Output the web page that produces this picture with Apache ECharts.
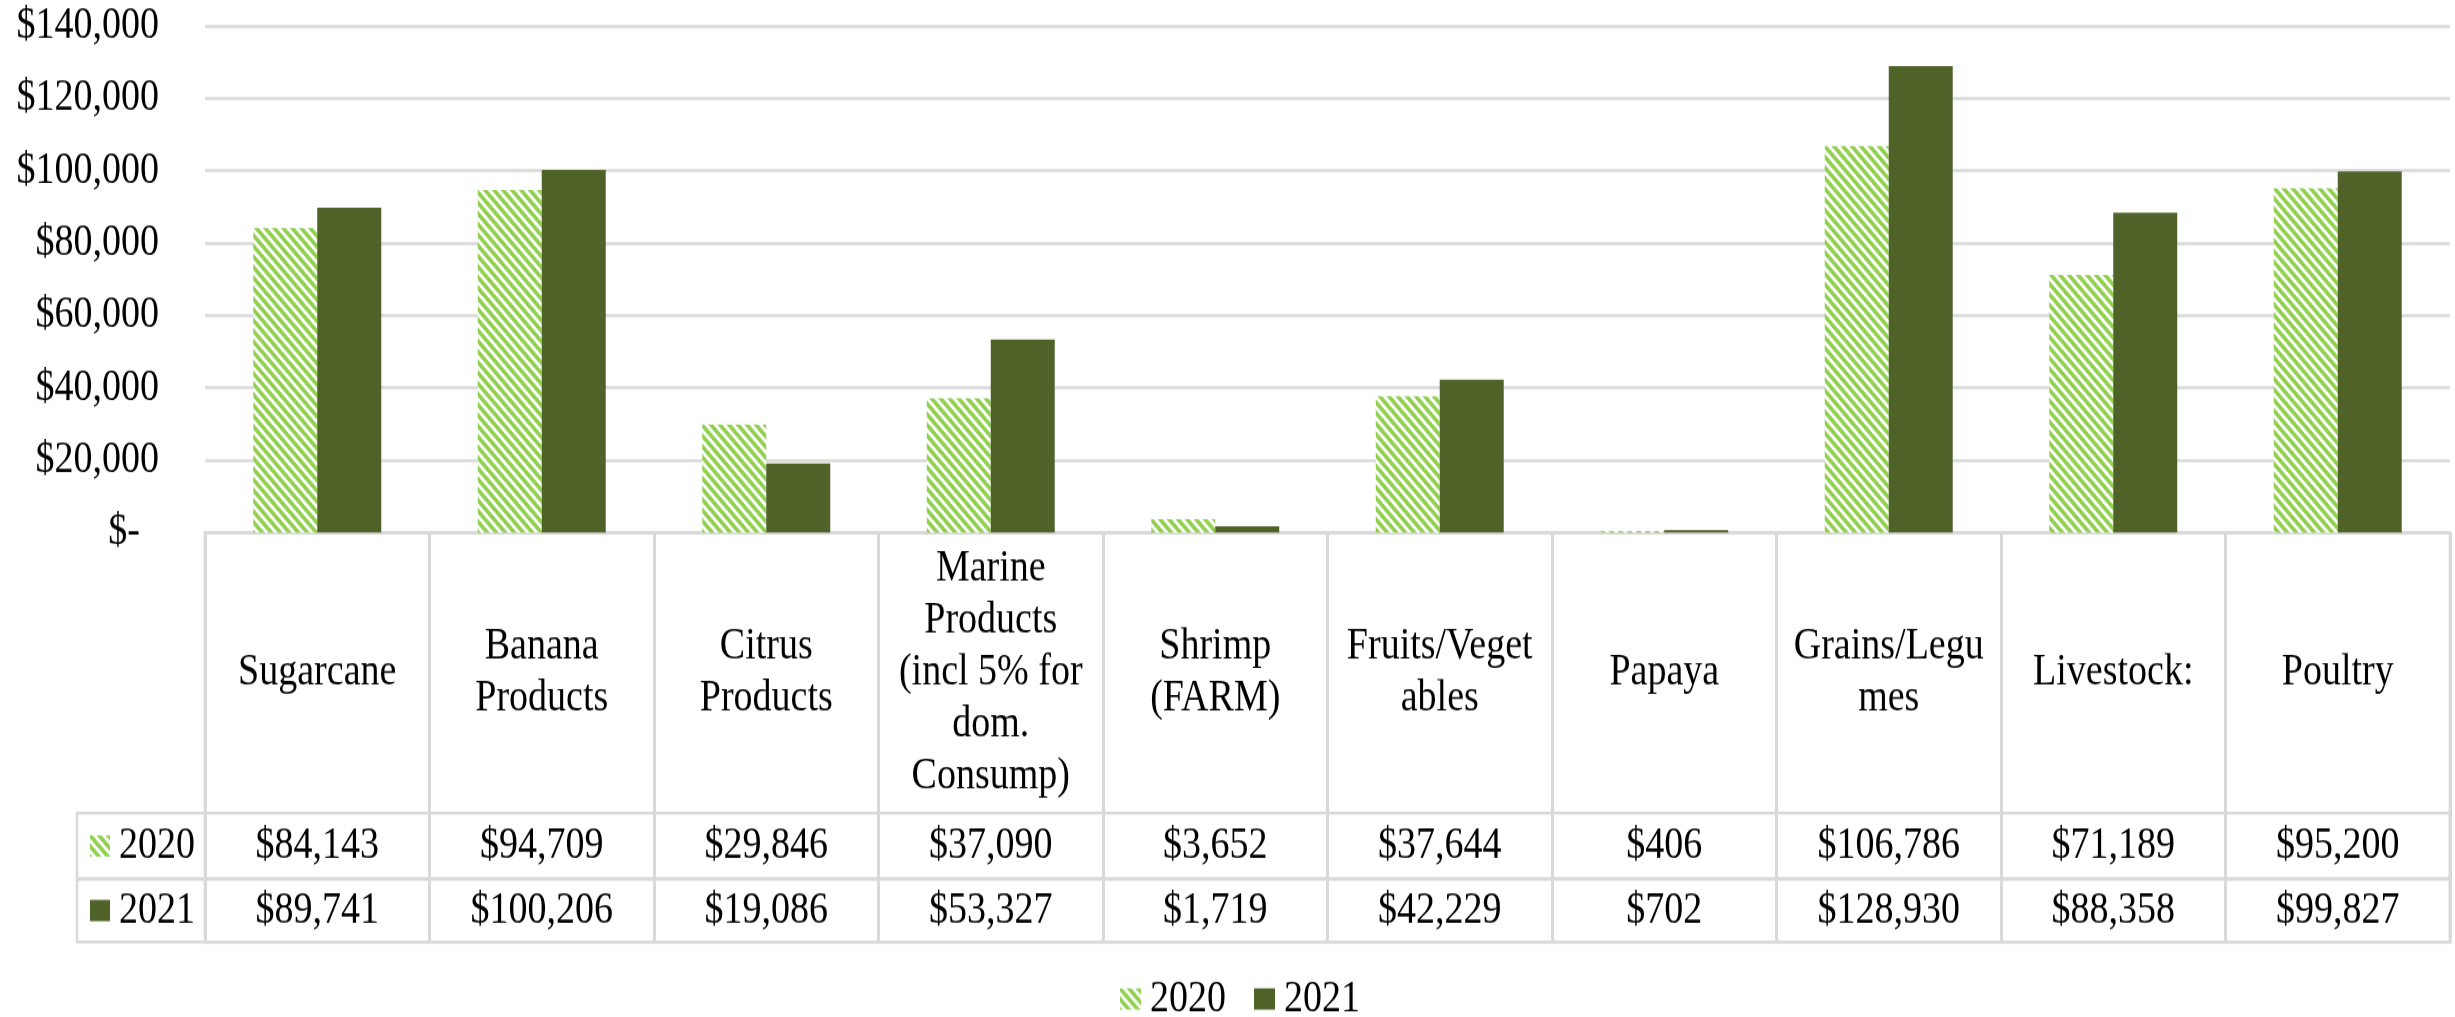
<!DOCTYPE html>
<html>
<head>
<meta charset="utf-8">
<script src="https://cdn.jsdelivr.net/npm/echarts@6/dist/echarts.min.js"></script>
<style>
  html, body { margin: 0; padding: 0; background: #fff; }
  #wrap { width: 2455px; height: 1017px; overflow: visible; }
  /* the source chart is stretched vertically; draw at 862px and scale to 1017px */
  #chart { width: 2455px; height: 862px; transform: scaleY(1.18); transform-origin: 0 0; }
</style>
</head>
<body>
<div id="wrap"><div id="chart"></div></div>
<script>
const categories = ['Sugarcane', 'Banana Products', 'Citrus Products',
    'Marine Products (incl 5% for dom. Consump)', 'Shrimp (FARM)', 'Fruits/Vegetables',
    'Papaya', 'Grains/Legumes', 'Livestock:', 'Poultry'];
// Labels as wrapped in the table cells
const categoryLabels = ['Sugarcane', 'Banana\nProducts', 'Citrus\nProducts',
    'Marine\nProducts\n(incl 5% for\ndom.\nConsump)', 'Shrimp\n(FARM)', 'Fruits/Veget\nables',
    'Papaya', 'Grains/Legu\nmes', 'Livestock:', 'Poultry'];
const values2020 = [84143, 94709, 29846, 37090, 3652, 37644, 406, 106786, 71189, 95200];
const values2021 = [89741, 100206, 19086, 53327, 1719, 42229, 702, 128930, 88358, 99827];
const seriesNames = ['2020', '2021'];

const lightGreen = '#92D050';
const darkGreen = '#4F6228';
const lineGray = '#D9D9D9';
const font = 'Liberation Serif, Times New Roman, serif';

// Hatch pattern for 2020 (downward diagonal stripes)
function makeHatch() {
    const size = 9;
    const c = document.createElement('canvas');
    c.width = size; c.height = size;
    const ctx = c.getContext('2d');
    ctx.fillStyle = '#fff';
    ctx.fillRect(0, 0, size, size);
    ctx.strokeStyle = lightGreen;
    ctx.lineWidth = 3.6;
    ctx.beginPath();
    ctx.moveTo(-4, -4); ctx.lineTo(size + 4, size + 4);
    ctx.moveTo(-4, size - 4); ctx.lineTo(4, size + 4);
    ctx.moveTo(size - 4, -4); ctx.lineTo(size + 4, 4);
    ctx.stroke();
    return c;
}
const hatch = { image: makeHatch(), repeat: 'repeat' };

function money(v) {
    return '$' + v.toLocaleString('en-US');
}

const chart = echarts.init(document.getElementById('chart'));

const textBase = { color: '#000', fontFamily: font, fontSize: 38 };

function tableAxis(margin, formatter) {
    return {
        type: 'category',
        gridIndex: 1,
        position: 'top',
        data: categories,
        axisLine: { show: false, onZero: false },
        axisTick: { show: false },
        splitLine: { show: false },
        axisLabel: Object.assign({
            inside: true,
            interval: 0,
            margin: margin,
            verticalAlign: 'middle',
            align: 'center',
            lineHeight: 44,
            formatter: formatter
        }, textBase)
    };
}

function rowLegend(name, top) {
    return {
        data: [name],
        left: 90,
        top: top,
        padding: 0,
        itemWidth: 20,
        itemHeight: 18,
        icon: 'rect',
        selectedMode: false,
        textStyle: Object.assign({ padding: [0, 0, 0, 4] }, textBase)
    };
}

const option = {
    backgroundColor: '#fff',
    animation: false,
    textStyle: { fontFamily: font },
    grid: [
        { left: 205, right: 5, top: 22, bottom: 410.7 },
        { left: 205, right: 5, top: 451.5, bottom: 63.7, show: true, borderColor: lineGray, borderWidth: 2.6 },
        { left: 77, right: 5, top: 689, height: 55.9, show: true, borderColor: lineGray, borderWidth: 2.6 },
        { left: 77, right: 5, top: 744.9, height: 53.4, show: true, borderColor: lineGray, borderWidth: 2.6 }
    ],
    legend: [
        {
            data: seriesNames,
            left: 1120,
            top: 827.6,
            padding: 0,
            itemWidth: 21,
            itemHeight: 18,
            itemGap: 28,
            icon: 'rect',
            selectedMode: false,
            textStyle: Object.assign({ padding: [0, 0, 0, 4] }, textBase)
        },
        rowLegend('2020', 697.9),
        rowLegend('2021', 752.6)
    ],
    xAxis: [
        {
            type: 'category',
            gridIndex: 0,
            data: categories,
            axisLine: { lineStyle: { color: lineGray, width: 2.6 } },
            axisTick: { show: false },
            axisLabel: { show: false }
        },
        Object.assign(tableAxis(118.8, (v, i) => categoryLabels[i]), {
            splitLine: { show: true, interval: 0, lineStyle: { color: lineGray, width: 3 } }
        }),
        tableAxis(265.4, (v, i) => money(values2020[i])),
        tableAxis(320.1, (v, i) => money(values2021[i])),
        { type: 'value', gridIndex: 2, show: false },
        { type: 'value', gridIndex: 3, show: false }
    ],
    yAxis: [
        {
            type: 'value',
            gridIndex: 0,
            min: 0,
            max: 140000,
            interval: 20000,
            axisLine: { show: false },
            axisTick: { show: false },
            splitLine: { lineStyle: { color: lineGray, width: 2.6 } },
            axisLabel: Object.assign({
                margin: 46,
                formatter: v => v === 0 ? '$-  ' : money(v)
            }, textBase)
        },
        { type: 'value', gridIndex: 1, show: false, min: 0, max: 1, splitLine: { show: false } },
        { type: 'value', gridIndex: 2, show: false },
        { type: 'value', gridIndex: 3, show: false }
    ],
    series: [
        {
            name: seriesNames[0],
            type: 'bar',
            data: values2020,
            barGap: '0%',
            barCategoryGap: '43%',
            itemStyle: { color: hatch }
        },
        {
            name: seriesNames[1],
            type: 'bar',
            data: values2021,
            barGap: '0%',
            barCategoryGap: '43%',
            itemStyle: { color: darkGreen }
        }
    ]
};

chart.setOption(option);
</script>
</body>
</html>
